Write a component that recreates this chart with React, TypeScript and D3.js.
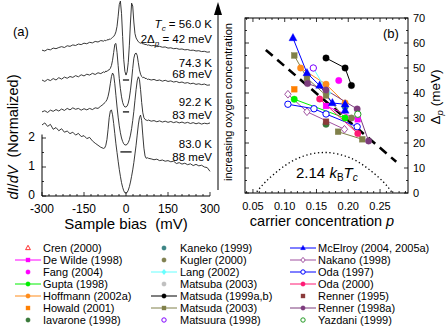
import * as d3 from 'd3';

const FONT = '"Liberation Sans", Arial, Helvetica, sans-serif';

// ---------- panel (a): normalized dI/dV spectra ----------
const biasMv = [
  -300, -290, -280, -270, -260, -250, -240, -230, -220, -210, -200, -190, -180, -170, -160, -150, -140, -130, -120, -110, -100, -90, -80,
  -76, -72, -68, -64, -60, -56, -52, -48, -44, -40, -36, -32, -28, -24, -20, -16, -12, -8, -4, 0,
  4, 8, 12, 16, 20, 24, 28, 32, 36, 40, 44, 48, 52, 56, 60, 64, 68, 72, 76,
  80, 90, 100, 110, 120, 130, 140, 150, 160, 170, 180, 190, 200, 210, 220, 230, 240, 250, 260, 270, 280, 290, 300,
];

const spec56K = [
  1.03, 1.0, 1.06, 1.04, 1.1, 1.08, 1.12, 1.15, 1.12, 1.18, 1.16, 1.21, 1.19, 1.24, 1.22, 1.27, 1.25, 1.3, 1.28, 1.33, 1.31, 1.36, 1.34,
  1.37, 1.35, 1.39, 1.38, 1.41, 1.4, 1.44, 1.47, 1.5, 1.56, 1.66, 1.85, 2.2, 2.6, 2.72, 2.3, 1.5, 0.7, 0.3, 0.17,
  0.28, 0.6, 1.2, 2.0, 2.65, 2.55, 2.0, 1.6, 1.45, 1.38, 1.32, 1.29, 1.27, 1.28, 1.24, 1.25, 1.22, 1.23, 1.2,
  1.21, 1.18, 1.19, 1.15, 1.16, 1.13, 1.14, 1.1, 1.11, 1.08, 1.09, 1.06, 1.07, 1.04, 1.05, 1.02, 1.03, 1.0, 1.01, 0.98, 0.99, 0.96, 0.97,
];
const spec74K = [
  1.1, 1.05, 1.12, 1.08, 1.15, 1.1, 1.18, 1.13, 1.2, 1.16, 1.22, 1.19, 1.25, 1.21, 1.28, 1.24, 1.3, 1.27, 1.33, 1.29, 1.35, 1.32, 1.38,
  1.36, 1.41, 1.39, 1.44, 1.45, 1.5, 1.6, 1.78, 2.05, 2.33, 2.36, 2.05, 1.6, 1.15, 0.8, 0.52, 0.33, 0.22, 0.17, 0.17,
  0.2, 0.3, 0.48, 0.75, 1.1, 1.5, 1.85, 2.0, 2.03, 1.95, 1.7, 1.45, 1.3, 1.22, 1.18, 1.2, 1.15, 1.16, 1.12,
  1.13, 1.1, 1.12, 1.08, 1.1, 1.06, 1.09, 1.05, 1.07, 1.03, 1.05, 1.01, 1.03, 0.99, 1.01, 0.97, 0.99, 0.95, 0.97, 0.94, 0.96, 0.92, 0.93,
];
const spec92K = [
  1.38, 1.42, 1.36, 1.44, 1.4, 1.46, 1.41, 1.48, 1.43, 1.5, 1.45, 1.52, 1.47, 1.5, 1.44, 1.49, 1.45, 1.5, 1.46, 1.52, 1.5, 1.58, 1.65,
  1.7, 1.74, 1.8, 1.92, 2.1, 2.35, 2.6, 2.72, 2.65, 2.35, 1.95, 1.55, 1.2, 0.9, 0.66, 0.48, 0.36, 0.28, 0.24, 0.24,
  0.26, 0.32, 0.42, 0.58, 0.8, 1.08, 1.4, 1.78, 2.15, 2.45, 2.59, 2.5, 2.15, 1.7, 1.35, 1.18, 1.12, 1.1, 1.08,
  1.1, 1.06, 1.08, 1.04, 1.07, 1.03, 1.06, 1.02, 1.05, 1.01, 1.04, 1.0, 1.03, 0.99, 1.02, 0.98, 1.01, 0.97, 1.0, 0.96, 0.99, 0.97, 1.0,
];
const spec83K = [
  2.45, 2.52, 2.4, 2.47, 2.3, 2.36, 2.25, 2.32, 2.2, 2.24, 2.15, 2.2, 2.1, 2.16, 2.05, 2.08, 1.98, 2.02, 1.9, 1.82, 1.75, 1.68, 1.64,
  1.66, 1.75, 1.95, 2.3, 2.7, 2.93, 2.97, 2.8, 2.5, 2.15, 1.8, 1.5, 1.2, 0.92, 0.68, 0.46, 0.3, 0.18, 0.11, 0.1,
  0.12, 0.2, 0.32, 0.48, 0.68, 0.9, 1.15, 1.45, 1.75, 2.1, 2.45, 2.7, 2.79, 2.6, 2.1, 1.65, 1.38, 1.3, 1.32,
  1.3, 1.28, 1.25, 1.27, 1.22, 1.24, 1.2, 1.22, 1.18, 1.2, 1.12, 1.15, 1.1, 1.13, 1.08, 1.11, 1.05, 1.09, 1.04, 1.06, 1.0, 0.98, 0.85,
];
const spectra = [spec56K, spec74K, spec92K, spec83K];
const spectraOffsets = [4.0, 2.9, 1.52, 0];
const spectraTemps = ['56.0 K', '74.3 K', '92.2 K', '83.0 K'];
const spectraGaps = ['42 meV', '68 meV', '83 meV', '88 meV'];
const biasTicks = [-300, -150, 0, 150, 300];
const dIdVTicks = [0, 1, 2];

// ---------- panel (b): pseudogap vs carrier concentration ----------
const mcelroyP = [0.113, 0.135, 0.155, 0.175, 0.195, 0.195];
const mcelroyD = [62, 48, 43, 36, 35.5, 33];
const matsuda99P = [0.165, 0.195, 0.205];
const matsuda99D = [54, 50, 43];
const hoffmannP = [0.125, 0.165, 0.195];
const hoffmannD = [50, 43.5, 36];
const howaldP = [0.115];
const howaldD = [41.5];
const matsuda03P = [0.115, 0.135, 0.165, 0.222, 0.184];
const matsuda03D = [55, 46, 39, 21.5, 24.5];
const fangP = [0.185];
const fangD = [45];
const langP = [0.145, 0.168];
const langD = [50, 40];
const matsuuraP = [0.145];
const matsuuraD = [50];
const kanekoP = [0.195];
const kanekoD = [34.5];
const kuglerP = [0.205];
const kuglerD = [30];
const matsubaP = [0.165];
const matsubaD = [40];
const guptaP = [0.115, 0.195];
const guptaD = [37.5, 30];
const oda97P = [0.105, 0.146, 0.165, 0.214];
const oda97D = [35.5, 33.7, 31.6, 26.5];
const oda00P = [0.155, 0.215];
const oda00D = [37.6, 23.8];
const deWildeP = [0.165, 0.215];
const deWildeD = [34.8, 29.5];
const nakanoP = [0.105, 0.135, 0.194];
const nakanoD = [39.5, 32.5, 25.5];
const renner95P = [0.165];
const renner95D = [28.5];
const renner98P = [0.136, 0.165, 0.214, 0.232];
const renner98D = [43.8, 41.2, 33.6, 20.8];
const iavaroneP = [0.165];
const iavaroneD = [27.5];
const yazdaniP = [0.215];
const yazdaniD = [31.5];
const crenP: number[] = [];
const crenD: number[] = [];

const trendP = [0.0703, 0.2755];
const trendD = [57.2, 12.5];
const domeP = [0.056, 0.07, 0.09, 0.11, 0.13, 0.15, 0.163, 0.175, 0.195, 0.215, 0.235, 0.255, 0.268];
const domeD = [0.5, 4.5, 9.0, 12.5, 14.8, 16.0, 16.2, 16.0, 14.8, 12.5, 9.0, 4.5, 0.5];

const pTicks = [0.05, 0.1, 0.15, 0.2, 0.25];
const deltaTicks = [0, 10, 20, 30, 40, 50, 60, 70];

type Mk = 'circle' | 'square' | 'triangle' | 'diamond';
interface Series { name: string; color: string; mark: Mk; open?: boolean; line?: boolean; p: number[]; d: number[] }

// legend order (column by column)
const series: Series[] = [
  { name: 'Cren (2000)', color: '#ff3333', mark: 'triangle', open: true, p: crenP, d: crenD },
  { name: 'De Wilde (1998)', color: '#ff00ff', mark: 'square', line: true, p: deWildeP, d: deWildeD },
  { name: 'Fang (2004)', color: '#ff00ff', mark: 'circle', p: fangP, d: fangD },
  { name: 'Gupta (1998)', color: '#00ee00', mark: 'circle', line: true, p: guptaP, d: guptaD },
  { name: 'Hoffmann (2002a)', color: '#ff8c1a', mark: 'circle', line: true, p: hoffmannP, d: hoffmannD },
  { name: 'Howald (2001)', color: '#ff7f00', mark: 'square', p: howaldP, d: howaldD },
  { name: 'Iavarone (1998)', color: '#3a7a3a', mark: 'circle', p: iavaroneP, d: iavaroneD },
  { name: 'Kaneko (1999)', color: '#3d8585', mark: 'circle', p: kanekoP, d: kanekoD },
  { name: 'Kugler (2000)', color: '#808050', mark: 'circle', p: kuglerP, d: kuglerD },
  { name: 'Lang (2002)', color: '#66ffff', mark: 'diamond', line: true, p: langP, d: langD },
  { name: 'Matsuba (2003)', color: '#c0c0c0', mark: 'circle', p: matsubaP, d: matsubaD },
  { name: 'Matsuda (1999a,b)', color: '#000000', mark: 'circle', line: true, p: matsuda99P, d: matsuda99D },
  { name: 'Matsuda (2003)', color: '#80804a', mark: 'square', line: true, p: matsuda03P, d: matsuda03D },
  { name: 'Matsuura (1998)', color: '#8000ff', mark: 'circle', open: true, p: matsuuraP, d: matsuuraD },
  { name: 'McElroy (2004, 2005a)', color: '#0000ff', mark: 'triangle', line: true, p: mcelroyP, d: mcelroyD },
  { name: 'Nakano (1998)', color: '#a050a0', mark: 'diamond', open: true, line: true, p: nakanoP, d: nakanoD },
  { name: 'Oda (1997)', color: '#0000ff', mark: 'circle', open: true, line: true, p: oda97P, d: oda97D },
  { name: 'Oda (2000)', color: '#ff1a75', mark: 'circle', line: true, p: oda00P, d: oda00D },
  { name: 'Renner (1995)', color: '#8b3a3a', mark: 'square', p: renner95P, d: renner95D },
  { name: 'Renner (1998a)', color: '#7d3c7d', mark: 'circle', line: true, p: renner98P, d: renner98D },
  { name: 'Yazdani (1999)', color: '#229922', mark: 'circle', open: true, p: yazdaniP, d: yazdaniD },
];

function Marker({ mark, x, y, color, open, s }: { mark: Mk; x: number; y: number; color: string; open?: boolean; s: number }) {
  const fill = open ? '#ffffff' : color;
  const sw = open ? 1 : 0.4;
  if (mark === 'circle') return <circle cx={x} cy={y} r={s} fill={fill} stroke={color} strokeWidth={sw} />;
  if (mark === 'square') return <rect x={x - s * 0.9} y={y - s * 0.9} width={s * 1.8} height={s * 1.8} fill={fill} stroke={color} strokeWidth={sw} />;
  if (mark === 'triangle')
    return <path d={`M${x},${y - s * 1.25}L${x + s * 1.1},${y + s * 0.75}L${x - s * 1.1},${y + s * 0.75}Z`} fill={fill} stroke={color} strokeWidth={sw} />;
  return <path d={`M${x},${y - s * 1.2}L${x + s},${y}L${x},${y + s * 1.2}L${x - s},${y}Z`} fill={fill} stroke={color} strokeWidth={sw} />;
}

export default function App() {
  // panel (a) scales
  const xA = d3.scaleLinear().domain([-300, 300]).range([42, 210]);
  const yA = d3.scaleLinear().domain([0, 2]).range([196, 138]);
  // panel (b) scales
  const xB = d3.scaleLinear().domain([0.0375, 0.294]).range([245, 408]);
  const yB = d3.scaleLinear().domain([0, 70]).range([193, 18]);

  const specLine = (vals: number[], off: number) =>
    d3.line<number>().x((_, i) => xA(biasMv[i])).y((v) => yA(v + off))(vals) || '';

  const lineB = (p: number[], d: number[]) =>
    d3.line<number>().x((v) => xB(v)).y((_, i) => yB(d[i]))(p) || '';
  const domePath = d3.line<number>().x((v) => xB(v)).y((_, i) => yB(domeD[i])).curve(d3.curveNatural)(domeP) || '';

  const biasMinor = d3.range(-300, 301, 25);
  const pMinor = d3.range(0.04, 0.2941, 0.01);
  const dMinor = d3.range(0, 70.1, 5);

  const labelY = [[28, 43], [67, 78], [106, 119], [148, 161]];
  const legCols = [{ m: 28, t: 43 }, { m: 164, t: 180 }, { m: 303, t: 318 }];

  return (
    <svg width={447} height={331} style={{ position: 'absolute', left: 0, top: 0, fontFamily: FONT }}>
      <rect width={447} height={331} fill="#fff" />

      {/* ---------- panel (a) ---------- */}
      <text x={13} y={36} fontSize={13}>(a)</text>
      {spectra.map((s, i) => (
        <path key={i} d={specLine(s, spectraOffsets[i])} fill="none" stroke="#222" strokeWidth={0.9} strokeLinejoin="round" />
      ))}
      {spectraOffsets.slice(0, 3).map((o, i) => (
        <line key={i} x1={xA(i === 2 ? -20 : -11)} x2={xA(i === 2 ? 20 : 11)} y1={yA(o)} y2={yA(o)} stroke="#111" strokeWidth={1.3} />
      ))}
      <line x1={xA(-300)} x2={xA(300)} y1={yA(0)} y2={yA(0)} stroke="#000" strokeWidth={1} />
      <line x1={xA(-300)} x2={xA(-300)} y1={yA(0)} y2={yA(2.12)} stroke="#000" strokeWidth={1} />
      {biasMinor.map((b) => (
        <line key={b} x1={xA(b)} x2={xA(b)} y1={yA(0)} y2={yA(0) - (biasTicks.includes(b) ? 4 : 2)} stroke="#000" strokeWidth={0.8} />
      ))}
      {biasTicks.map((b) => (
        <text key={b} x={xA(b)} y={212.5} fontSize={12} textAnchor="middle">{b}</text>
      ))}
      {[0, 0.5, 1, 1.5, 2].map((v) => (
        <line key={v} x1={xA(-300)} x2={xA(-300) + (Number.isInteger(v) ? 4 : 2)} y1={yA(v)} y2={yA(v)} stroke="#000" strokeWidth={0.8} />
      ))}
      {dIdVTicks.map((v) => (
        <text key={v} x={35} y={yA(v) + 3} fontSize={12} textAnchor="end">{v}</text>
      ))}
      <text x={126} y={229} fontSize={15} textAnchor="middle">Sample bias{'\u00a0\u00a0'}(mV)</text>
      <text transform="translate(18,137) rotate(-90)" fontSize={14.5} textAnchor="middle">
        <tspan fontStyle="italic">dI</tspan>/<tspan fontStyle="italic">dV</tspan>{'\u00a0\u00a0'}(Normalized)
      </text>

      {/* curve annotations */}
      <text x={212} y={labelY[0][0]} fontSize={11.5} textAnchor="end">
        <tspan fontStyle="italic">T</tspan><tspan fontStyle="italic" fontSize={8} dy={3}>c</tspan><tspan dy={-3}> = {spectraTemps[0]}</tspan>
      </text>
      <text x={212} y={labelY[0][1]} fontSize={11.5} textAnchor="end">
        2Δ<tspan fontStyle="italic" fontSize={8} dy={3}>p</tspan><tspan dy={-3}> = {spectraGaps[0]}</tspan>
      </text>
      {spectraTemps.slice(1).map((t, i) => (
        <g key={t}>
          <text x={212} y={labelY[i + 1][0]} fontSize={11.5} textAnchor="end">{t}</text>
          <text x={212} y={labelY[i + 1][1]} fontSize={11.5} textAnchor="end">{spectraGaps[i + 1]}</text>
        </g>
      ))}

      {/* doping arrow */}
      <line x1={218} x2={218} y1={190} y2={14} stroke="#000" strokeWidth={1} />
      <path d="M218,2L222,15L214,15Z" fill="#000" />
      <text transform="translate(232,102) rotate(-90)" fontSize={11} textAnchor="middle">increasing oxygen concentration</text>

      {/* ---------- panel (b) ---------- */}
      <path d={domePath} fill="none" stroke="#000" strokeWidth={1.3} strokeDasharray="1.3 2.6" />
      <path d={lineB(trendP, trendD)} fill="none" stroke="#000" strokeWidth={2.6} strokeDasharray="9 6" />
      {series.filter((s) => s.line && s.p.length > 1).map((s) => (
        <path key={s.name} d={lineB(s.p, s.d)} fill="none" stroke={s.color} strokeWidth={1} />
      ))}
      {series.map((s) =>
        s.p.map((p, i) => (
          <Marker key={s.name + i} mark={s.mark} x={xB(p)} y={yB(s.d[i])} color={s.color} open={s.open}
            s={s.mark === 'triangle' ? 3.6 : 3.2} />
        ))
      )}

      <rect x={245} y={18} width={163} height={175} fill="none" stroke="#000" strokeWidth={1} />
      {pMinor.map((p, i) => {
        const major = pTicks.some((t) => Math.abs(t - p) < 1e-6);
        const l = major ? 4 : 2;
        return (
          <g key={i}>
            <line x1={xB(p)} x2={xB(p)} y1={193} y2={193 - l} stroke="#000" strokeWidth={0.8} />
            <line x1={xB(p)} x2={xB(p)} y1={18} y2={18 + l} stroke="#000" strokeWidth={0.8} />
          </g>
        );
      })}
      {dMinor.map((d) => {
        const l = d % 10 === 0 ? 4 : 2;
        return (
          <g key={d}>
            <line x1={245} x2={245 + l} y1={yB(d)} y2={yB(d)} stroke="#000" strokeWidth={0.8} />
            <line x1={408} x2={408 - l} y1={yB(d)} y2={yB(d)} stroke="#000" strokeWidth={0.8} />
          </g>
        );
      })}
      {pTicks.map((p) => (
        <text key={p} x={xB(p)} y={210} fontSize={11} textAnchor="middle">{d3.format('.2f')(p)}</text>
      ))}
      {deltaTicks.map((d) => (
        <text key={d} x={413} y={yB(d) + 4} fontSize={11}>{d}</text>
      ))}
      <text x={383} y={38} fontSize={13}>(b)</text>
      <text x={322} y={226} fontSize={14.5} textAnchor="middle">carrier concentration <tspan fontStyle="italic">p</tspan></text>
      <text transform="translate(440,97) rotate(-90)" fontSize={13.5} textAnchor="middle">
        Δ<tspan fontStyle="italic" fontSize={9.5} dy={3}>p</tspan><tspan dy={-3}>{'\u00a0'}(meV)</tspan>
      </text>
      <text x={296} y={178} fontSize={15}>
        2.14 <tspan fontStyle="italic">k</tspan><tspan fontSize={10} dy={3}>B</tspan><tspan fontStyle="italic" dy={-3}>T</tspan><tspan fontStyle="italic" fontSize={10} dy={3}>c</tspan>
      </text>

      {/* ---------- legend ---------- */}
      {series.map((s, i) => {
        const col = legCols[Math.floor(i / 7)];
        const y = 248 + (i % 7) * 12;
        return (
          <g key={s.name}>
            {s.line && <line x1={col.m - 13} x2={col.m + 13} y1={y} y2={y} stroke={s.color} strokeWidth={1} />}
            <Marker mark={s.mark} x={col.m} y={y} color={s.color} open={s.open} s={2.2} />
            <text x={col.t} y={y + 4} fontSize={11}>{s.name}</text>
          </g>
        );
      })}
    </svg>
  );
}
